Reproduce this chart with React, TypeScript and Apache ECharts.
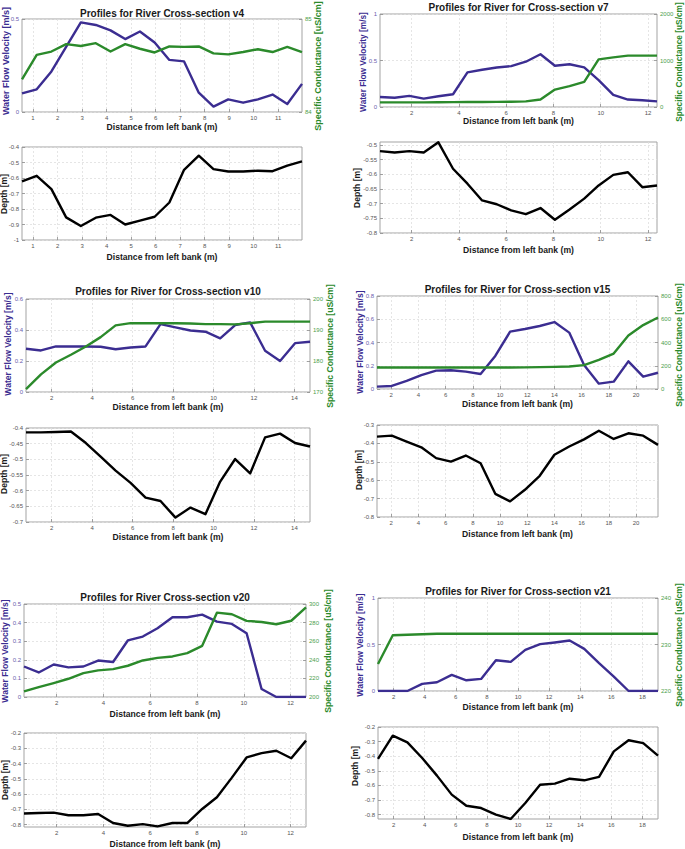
import React, { useEffect, useRef } from "react";
import * as echarts from "echarts";

const FONT = "'Liberation Sans', Arial, Helvetica, sans-serif";
const VEL_COLOR = "#3b2d91";
const COND_COLOR = "#2b8a2b";
const DEPTH_COLOR = "#000000";

// ---------- data ----------
const v4Title = "Profiles for River Cross-section v4";
const v4Distance = [0.55, 1.15, 1.75, 2.35, 2.95, 3.56, 4.16, 4.76, 5.36, 5.96, 6.56, 7.16, 7.76, 8.36, 8.96, 9.57, 10.17, 10.77, 11.37, 11.97];
const v4Velocity = [0.1, 0.122, 0.218, 0.35, 0.482, 0.468, 0.439, 0.392, 0.433, 0.374, 0.28, 0.272, 0.104, 0.029, 0.068, 0.05, 0.068, 0.094, 0.043, 0.151];
const v4Conductance = [84.35, 84.615, 84.65, 84.73, 84.71, 84.74, 84.65, 84.73, 84.68, 84.64, 84.705, 84.7, 84.705, 84.63, 84.62, 84.645, 84.675, 84.645, 84.7, 84.645];
const v4Depth = [-0.622, -0.586, -0.672, -0.854, -0.91, -0.856, -0.838, -0.9, -0.875, -0.85, -0.758, -0.547, -0.456, -0.543, -0.558, -0.558, -0.553, -0.556, -0.52, -0.493];
const v4XTicks = [1, 2, 3, 4, 5, 6, 7, 8, 9, 10, 11];
const v4VelTicks = [0, 0.5];
const v4CondTicks = [84, 85];
const v4DepthTicks = [-1, -0.9, -0.8, -0.7, -0.6, -0.5, -0.4];

const v7Title = "Profiles for River for Cross-section v7";
const v7Distance = [0.66, 1.28, 1.9, 2.51, 3.13, 3.75, 4.36, 4.98, 5.6, 6.21, 6.83, 7.45, 8.06, 8.68, 9.3, 9.91, 10.53, 11.15, 11.76, 12.38];
const v7Velocity = [0.108, 0.1, 0.12, 0.09, 0.115, 0.137, 0.372, 0.4, 0.425, 0.44, 0.487, 0.567, 0.444, 0.46, 0.426, 0.289, 0.13, 0.08, 0.072, 0.061];
const v7Conductance = [100, 100, 100, 100, 102, 104, 106, 108, 110, 112, 120, 160, 375, 448, 541, 1025, 1068, 1105, 1105, 1105];
const v7Depth = [-0.521, -0.526, -0.521, -0.526, -0.491, -0.581, -0.632, -0.689, -0.702, -0.723, -0.736, -0.715, -0.755, -0.72, -0.683, -0.638, -0.602, -0.593, -0.644, -0.638];
const v7XTicks = [2, 4, 6, 8, 10, 12];
const v7VelTicks = [0, 0.5, 1];
const v7CondTicks = [0, 1000, 2000];
const v7DepthTicks = [-0.8, -0.75, -0.7, -0.65, -0.6, -0.55, -0.5];

const v10Title = "Profiles for River for Cross-section v10";
const v10Distance = [0.73, 1.47, 2.21, 2.95, 3.69, 4.42, 5.16, 5.9, 6.64, 7.38, 8.12, 8.86, 9.6, 10.33, 11.07, 11.81, 12.55, 13.29, 14.03, 14.77];
const v10Velocity = [0.279, 0.268, 0.294, 0.294, 0.294, 0.292, 0.276, 0.287, 0.294, 0.438, 0.417, 0.397, 0.389, 0.346, 0.432, 0.449, 0.266, 0.2, 0.315, 0.324];
const v10Conductance = [170.9, 175.7, 179.5, 182, 184.7, 187.7, 191.5, 192.2, 192.2, 192.2, 192.2, 192.1, 191.9, 191.9, 191.8, 192.2, 192.7, 192.7, 192.7, 192.7];
const v10Depth = [-0.414, -0.414, -0.413, -0.411, -0.448, -0.491, -0.536, -0.575, -0.622, -0.633, -0.686, -0.654, -0.675, -0.571, -0.499, -0.545, -0.43, -0.418, -0.448, -0.459];
const v10XTicks = [2, 4, 6, 8, 10, 12, 14];
const v10VelTicks = [0, 0.2, 0.4, 0.6];
const v10CondTicks = [170, 180, 190, 200];
const v10DepthTicks = [-0.7, -0.65, -0.6, -0.55, -0.5, -0.45, -0.4];

const v15Title = "Profiles for River for Cross-section v15";
const v15Distance = [0.95, 2.04, 3.13, 4.21, 5.3, 6.39, 7.48, 8.57, 9.65, 10.74, 11.83, 12.92, 14.0, 15.09, 16.18, 17.27, 18.36, 19.44, 20.53, 21.62];
const v15Velocity = [0.02, 0.026, 0.069, 0.12, 0.158, 0.161, 0.149, 0.129, 0.284, 0.493, 0.516, 0.542, 0.576, 0.485, 0.206, 0.046, 0.063, 0.238, 0.106, 0.14];
const v15Conductance = [185, 185, 185, 185, 185, 185, 185, 185, 185, 185, 186, 188, 190, 193, 205, 250, 305, 460, 550, 615];
const v15Depth = [-0.363, -0.358, -0.39, -0.421, -0.48, -0.499, -0.466, -0.508, -0.674, -0.715, -0.652, -0.576, -0.462, -0.417, -0.378, -0.331, -0.376, -0.345, -0.358, -0.408];
const v15XTicks = [2, 4, 6, 8, 10, 12, 14, 16, 18, 20];
const v15VelTicks = [0, 0.2, 0.4, 0.6, 0.8];
const v15CondTicks = [0, 200, 400, 600, 800];
const v15DepthTicks = [-0.8, -0.7, -0.6, -0.5, -0.4, -0.3];

const v20Title = "Profiles for River Cross-section v20";
const v20Distance = [0.6, 1.23, 1.87, 2.5, 3.14, 3.77, 4.41, 5.04, 5.68, 6.31, 6.95, 7.58, 8.22, 8.85, 9.49, 10.12, 10.76, 11.39, 12.03, 12.66];
const v20Velocity = [0.164, 0.132, 0.175, 0.159, 0.164, 0.196, 0.188, 0.304, 0.325, 0.37, 0.429, 0.429, 0.443, 0.405, 0.393, 0.343, 0.043, 0, 0, 0];
const v20Conductance = [206, 210.7, 215, 219.6, 225.7, 228.6, 230, 233.6, 239.3, 242.1, 243.6, 247.1, 255, 290.7, 289, 281.8, 280.7, 278.2, 282, 296.4];
const v20Depth = [-0.727, -0.723, -0.721, -0.738, -0.738, -0.73, -0.789, -0.807, -0.796, -0.811, -0.789, -0.789, -0.697, -0.62, -0.492, -0.36, -0.332, -0.316, -0.365, -0.25];
const v20XTicks = [2, 4, 6, 8, 10, 12];
const v20VelTicks = [0, 0.1, 0.2, 0.3, 0.4, 0.5];
const v20CondTicks = [200, 220, 240, 260, 280, 300];
const v20DepthTicks = [-0.8, -0.7, -0.6, -0.5, -0.4, -0.3, -0.2];

const v21Title = "Profiles for River for Cross-section v21";
const v21Distance = [1.0, 1.95, 2.89, 3.84, 4.79, 5.74, 6.68, 7.63, 8.58, 9.53, 10.47, 11.42, 12.37, 13.32, 14.26, 15.21, 16.16, 17.11, 18.05, 19.0];
const v21Velocity = [0, 0, 0, 0.076, 0.094, 0.173, 0.115, 0.13, 0.331, 0.313, 0.442, 0.504, 0.522, 0.543, 0.453, 0.3, 0.155, 0, 0, 0];
const v21Conductance = [225.8, 232.0, 232.1, 232.2, 232.3, 232.3, 232.3, 232.3, 232.3, 232.3, 232.3, 232.3, 232.3, 232.3, 232.3, 232.3, 232.3, 232.3, 232.3, 232.3];
const v21Depth = [-0.419, -0.259, -0.305, -0.412, -0.533, -0.663, -0.739, -0.755, -0.8, -0.83, -0.72, -0.595, -0.588, -0.554, -0.565, -0.542, -0.367, -0.291, -0.31, -0.396];
const v21XTicks = [2, 4, 6, 8, 10, 12, 14, 16, 18];
const v21VelTicks = [0, 0.5, 1];
const v21CondTicks = [220, 230, 240];
const v21DepthTicks = [-0.8, -0.7, -0.6, -0.5, -0.4, -0.3, -0.2];

const X_NAME = "Distance from left bank (m)";
const VEL_NAME = "Water Flow Velocity [m/s]";
const COND_NAME = "Specific Conductance [uS/cm]";
const DEPTH_NAME = "Depth [m]";

// ---------- panels: data refs + layout ----------
const PANELS = [
  {
    title: v4Title, x: v4Distance, vel: v4Velocity, cond: v4Conductance, depth: v4Depth,
    xTicks: v4XTicks, velTicks: v4VelTicks, condTicks: v4CondTicks, depthTicks: v4DepthTicks,
    velRange: [0, 0.5], condRange: [84, 85], depthRange: [-1, -0.4],
    velBox: [22, 19, 302, 112], depthBox: [22, 147, 302, 240],
    titlePos: [162, 13], topXNameY: 127, botXNameY: 257,
    velName: [6, 61], condName: [318, 66], depthName: [4, 194], nameSize: 9,
  },
  {
    title: v7Title, x: v7Distance, vel: v7Velocity, cond: v7Conductance, depth: v7Depth,
    xTicks: v7XTicks, velTicks: v7VelTicks, condTicks: v7CondTicks, depthTicks: v7DepthTicks,
    velRange: [0, 1], condRange: [0, 2000], depthRange: [-0.8, -0.49],
    velBox: [380, 14, 657, 107], depthBox: [380, 142, 657, 233],
    titlePos: [518.5, 7], topXNameY: 121, botXNameY: 250,
    velName: [363, 62], condName: [679, 62], depthName: [357, 188], nameSize: 8.3,
  },
  {
    title: v10Title, x: v10Distance, vel: v10Velocity, cond: v10Conductance, depth: v10Depth,
    xTicks: v10XTicks, velTicks: v10VelTicks, condTicks: v10CondTicks, depthTicks: v10DepthTicks,
    velRange: [0, 0.6], condRange: [170, 200], depthRange: [-0.7, -0.4],
    velBox: [26, 299, 310, 392], depthBox: [26, 428, 310, 522],
    titlePos: [168, 291], topXNameY: 407, botXNameY: 537,
    velName: [8, 344], condName: [330, 346], depthName: [4, 474], nameSize: 8.6,
  },
  {
    title: v15Title, x: v15Distance, vel: v15Velocity, cond: v15Conductance, depth: v15Depth,
    xTicks: v15XTicks, velTicks: v15VelTicks, condTicks: v15CondTicks, depthTicks: v15DepthTicks,
    velRange: [0, 0.8], condRange: [0, 800], depthRange: [-0.8, -0.3],
    velBox: [377, 296, 658, 389], depthBox: [377, 425, 658, 517],
    titlePos: [517.5, 289], topXNameY: 404, botXNameY: 534,
    velName: [360, 342], condName: [679, 345], depthName: [359, 470], nameSize: 8.6,
  },
  {
    title: v20Title, x: v20Distance, vel: v20Velocity, cond: v20Conductance, depth: v20Depth,
    xTicks: v20XTicks, velTicks: v20VelTicks, condTicks: v20CondTicks, depthTicks: v20DepthTicks,
    velRange: [0, 0.5], condRange: [200, 300], depthRange: [-0.815, -0.2],
    velBox: [24, 604, 306, 697], depthBox: [24, 733, 306, 827],
    titlePos: [165, 597], topXNameY: 714, botXNameY: 844,
    velName: [5, 651], condName: [328, 651], depthName: [5, 780], nameSize: 8.6,
  },
  {
    title: v21Title, x: v21Distance, vel: v21Velocity, cond: v21Conductance, depth: v21Depth,
    xTicks: v21XTicks, velTicks: v21VelTicks, condTicks: v21CondTicks, depthTicks: v21DepthTicks,
    velRange: [0, 1], condRange: [220, 240], depthRange: [-0.83, -0.2],
    velBox: [378, 598, 658, 691], depthBox: [378, 727, 658, 819],
    titlePos: [518, 591], topXNameY: 707, botXNameY: 837,
    velName: [360, 645], condName: [679, 645], depthName: [355, 766], nameSize: 8.6,
  },
];

const fmt = (v: number) => String(Math.round(v * 1000) / 1000);

function mkGrid(b: number[]) {
  return {
    left: b[0], top: b[1], width: b[2] - b[0], height: b[3] - b[1],
    show: true, borderColor: "#a3a3a3", borderWidth: 1, backgroundColor: "#ffffff",
    containLabel: false, outerBoundsMode: "none",
  };
}

const splitStyle = { color: "#dedede", type: [2, 2], width: 0.8 };

function mkX(gridIndex: number, p: any) {
  return {
    type: "value", gridIndex, position: "bottom",
    min: p.x[0], max: p.x[p.x.length - 1],
    axisLine: { show: false },
    axisTick: { show: true, inside: true, length: 3, customValues: p.xTicks, lineStyle: { color: "#8a8a8a", width: 0.8 } },
    axisLabel: { customValues: p.xTicks, fontSize: 6, color: "#555555", margin: 3, fontFamily: FONT, formatter: fmt },
    splitLine: { show: true, lineStyle: splitStyle },
  };
}

function mkY(gridIndex: number, pos: string, range: number[], ticks: number[], labelColor: string, split: boolean) {
  return {
    type: "value", gridIndex, position: pos,
    min: range[0], max: range[1],
    axisLine: { show: false },
    axisTick: { show: true, inside: true, length: 3, customValues: ticks, lineStyle: { color: "#8a8a8a", width: 0.8 } },
    axisLabel: { customValues: ticks, fontSize: 6, color: labelColor, margin: 3, fontFamily: FONT, formatter: fmt },
    splitLine: { show: split, lineStyle: splitStyle },
  };
}

function text(x: number, y: number, str: string, size: number, color: string, rotate = false, bold = true) {
  return {
    type: "text", x, y, rotation: rotate ? Math.PI / 2 : 0, silent: true,
    style: {
      text: str, font: `${bold ? "bold " : ""}${size}px ${FONT}`, fill: color,
      align: "center", verticalAlign: "middle", textAlign: "center", textVerticalAlign: "middle",
    },
  };
}

function buildOption() {
  const grid: any[] = [];
  const xAxis: any[] = [];
  const yAxis: any[] = [];
  const series: any[] = [];
  const graphic: any[] = [];
  PANELS.forEach((p) => {
    const g = grid.length;
    grid.push(mkGrid(p.velBox));
    grid.push(mkGrid(p.depthBox));
    const xi = xAxis.length;
    xAxis.push(mkX(g, p));
    xAxis.push(mkX(g + 1, p));
    const yi = yAxis.length;
    yAxis.push(mkY(g, "left", p.velRange, p.velTicks, "#6a60ad", true));
    yAxis.push(mkY(g, "right", p.condRange, p.condTicks, "#4d9e4d", false));
    yAxis.push(mkY(g + 1, "left", p.depthRange, p.depthTicks, "#555555", true));
    const mk = (ys: number[], xIdx: number, yIdx: number, color: string) => ({
      type: "line", xAxisIndex: xIdx, yAxisIndex: yIdx, showSymbol: false, symbol: "none",
      data: p.x.map((xv: number, i: number) => [xv, ys[i]]),
      lineStyle: { color, width: 2.4, join: "round" }, itemStyle: { color }, silent: true, z: 3,
    });
    series.push(mk(p.vel, xi, yi, VEL_COLOR));
    series.push(mk(p.cond, xi, yi + 1, COND_COLOR));
    series.push(mk(p.depth, xi + 1, yi + 2, DEPTH_COLOR));
    const cx = (p.velBox[0] + p.velBox[2]) / 2;
    graphic.push(text(p.titlePos[0], p.titlePos[1], p.title, 10, "#1a1a1a"));
    graphic.push(text(cx, p.topXNameY, X_NAME, 8.6, "#1a1a1a"));
    graphic.push(text(cx, p.botXNameY, X_NAME, 8.6, "#1a1a1a"));
    graphic.push(text(p.velName[0], p.velName[1], VEL_NAME, p.nameSize, VEL_COLOR, true));
    graphic.push(text(p.condName[0], p.condName[1], COND_NAME, p.nameSize, COND_COLOR, true));
    graphic.push(text(p.depthName[0], p.depthName[1], DEPTH_NAME, 8.6, "#1a1a1a", true));
  });
  return {
    animation: false,
    backgroundColor: "#ffffff",
    grid, xAxis, yAxis, series, graphic,
  };
}

export default function App() {
  const ref = useRef<HTMLDivElement>(null);
  useEffect(() => {
    if (!ref.current) return;
    const chart = echarts.init(ref.current, null, { renderer: "svg" });
    chart.setOption(buildOption() as any);
    return () => chart.dispose();
  }, []);
  return (
    <div
      ref={ref}
      style={{ position: "absolute", left: 0, top: 0, width: 685, height: 849, background: "#fff" }}
    />
  );
}
